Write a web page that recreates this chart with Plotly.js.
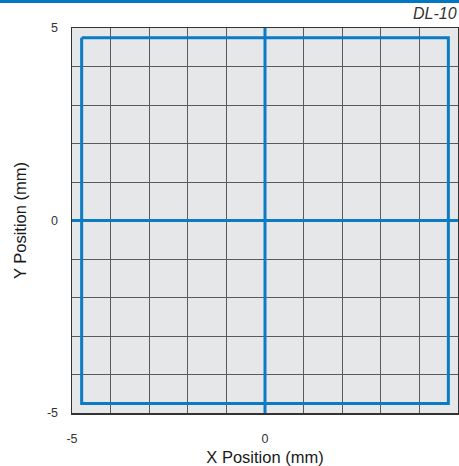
<!DOCTYPE html>
<html>
<head>
<meta charset="utf-8">
<script src="https://cdn.plot.ly/plotly-3.0.1.min.js"></script>
<style>html,body{margin:0;padding:0;background:#fff;}#chart{width:459px;height:466px;}</style>
</head>
<body>
<div id="chart"></div>
<script>
// Data
const squareX = [-4.75, 4.75, 4.75, -4.75, -4.75];
const squareY = [4.75, 4.75, -4.75, -4.75, 4.75];
const crossHX = [-5, 5];
const crossHY = [0, 0];
const crossVX = [0, 0];
const crossVY = [-5, 5];
const tickVals = [-5, -4, -3, -2, -1, 0, 1, 2, 3, 4, 5];
const tickText = ['-5', '', '', '', '', '0', '', '', '', '', '5'];
const modelLabel = 'DL-10';

const blue = '#0a7bc4';
const lineStyle = {color: blue, width: 3};
const traces = [
  {x: crossHX, y: crossHY, mode: 'lines', line: lineStyle, hoverinfo: 'skip'},
  {x: crossVX, y: crossVY, mode: 'lines', line: lineStyle, hoverinfo: 'skip'},
  {x: squareX, y: squareY, mode: 'lines', line: lineStyle, hoverinfo: 'skip'}
];

const W = 459, H = 466, L = 72, R = 1, T = 28, B = 53;
const pw = W - L - R, ph = H - T - B;
const fam = 'Liberation Sans, Arial, sans-serif';

const axisCommon = {
  range: [-5, 5],
  tickvals: tickVals,
  ticktext: tickText,
  showgrid: true,
  gridcolor: '#5a5a5a',
  gridwidth: 1,
  zeroline: false,
  showline: true,
  mirror: true,
  linecolor: '#333',
  linewidth: 1.5,
  ticks: '',
  tickfont: {family: fam, size: 12.5, color: '#333'},
  fixedrange: true
};

const layout = {
  width: W, height: H,
  margin: {l: L, r: R, t: T, b: B, pad: 0},
  paper_bgcolor: '#ffffff',
  plot_bgcolor: '#e6e7e9',
  showlegend: false,
  font: {family: fam, color: '#222'},
  xaxis: Object.assign({}, axisCommon, {
    ticklabelstandoff: 13,
    title: {text: 'X Position (mm)', font: {size: 16.5, color: '#1a1a1a'}, standoff: 7}
  }),
  yaxis: Object.assign({}, axisCommon, {
    ticklabelstandoff: 10,
    title: {text: 'Y Position (mm)', font: {size: 16.5, color: '#1a1a1a'}, standoff: 16}
  }),
  shapes: [{
    type: 'rect', xref: 'paper', yref: 'paper',
    x0: -L / pw, x1: 1 + R / pw,
    y0: 1 + (T - 3) / ph, y1: 1 + T / ph + 0.01,
    fillcolor: '#0077c0', line: {width: 0}
  }],
  annotations: [{
    text: '<i>' + modelLabel + '</i>',
    xref: 'paper', yref: 'paper',
    x: 1 + R / pw, y: 1 + (T - 13) / ph,
    xanchor: 'right', yanchor: 'middle',
    showarrow: false,
    font: {size: 16, color: '#333', family: fam}
  }]
};

Plotly.newPlot('chart', traces, layout, {displayModeBar: false, staticPlot: true});
</script>
</body>
</html>
